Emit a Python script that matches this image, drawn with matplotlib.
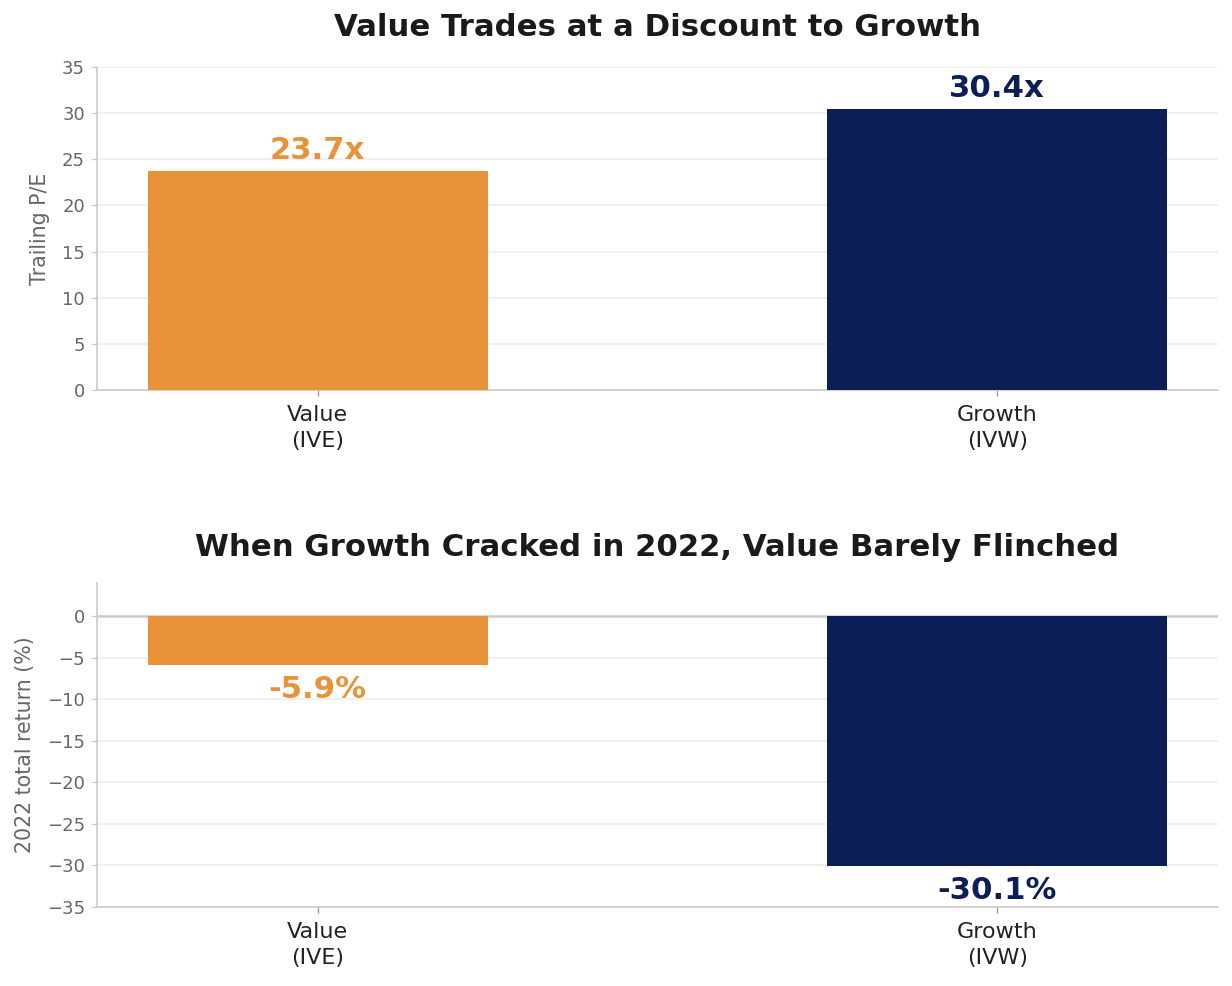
import matplotlib
matplotlib.use("Agg")
import matplotlib.pyplot as plt

plt.rcParams["font.family"] = ["DejaVu Sans"]

categories = ["Value\n(IVE)", "Growth\n(IVW)"]
pe_values = [23.7, 30.4]
returns_2022 = [-5.9, -30.1]
pe_labels = ["23.7x", "30.4x"]
ret_labels = ["-5.9%", "-30.1%"]
colors = ["#E8923A", "#0B1F56"]

DPI = 123.2
fig = plt.figure(figsize=(1232 / DPI, 986 / DPI), dpi=DPI)
ax1 = fig.add_axes([0.0787, 0.6045, 0.9099, 0.3275])
ax2 = fig.add_axes([0.0787, 0.0801, 0.9099, 0.3286])

def style(ax):
    for s in ["top", "right"]:
        ax.spines[s].set_visible(False)
    for s in ["left", "bottom"]:
        ax.spines[s].set_color("#cccccc")
        ax.spines[s].set_linewidth(1.0)
    ax.tick_params(axis="y", colors="#cccccc", labelcolor="#666666", labelsize=10.5)
    ax.tick_params(axis="x", colors="#999999", labelcolor="#222222", labelsize=13, pad=5)
    for lab in ax.get_xticklabels():
        lab.set_linespacing(1.4)
    ax.yaxis.grid(True, color="#eeeeee", linewidth=1.0)
    ax.set_axisbelow(True)

x = list(range(len(categories)))

# Top chart
ax1.bar(x, pe_values, width=0.5, color=colors, zorder=3)
ax1.set_ylim(0, 35)
ax1.set_xticks(x)
ax1.set_xticklabels(categories)
ax1.set_ylabel("Trailing P/E", color="#666666", fontsize=12, labelpad=7)
ax1.set_title("Value Trades at a Discount to Growth", fontsize=18, fontweight="bold",
              color="#1a1a1a", pad=18)
for xi, v, lab, c in zip(x, pe_values, pe_labels, colors):
    ax1.text(xi, v + 0.7, lab, ha="center", va="bottom", fontsize=18,
             fontweight="bold", color=c)
style(ax1)

# Bottom chart
ax2.bar(x, returns_2022, width=0.5, color=colors, zorder=3)
ax2.axhline(0, color="#cccccc", linewidth=1.5, zorder=2)
ax2.set_ylim(-35, 4)
ax2.set_yticks([0, -5, -10, -15, -20, -25, -30, -35])
ax2.set_xticks(x)
ax2.set_xticklabels(categories)
ax2.set_ylabel("2022 total return (%)", color="#666666", fontsize=12, labelpad=7)
ax2.set_title("When Growth Cracked in 2022, Value Barely Flinched", fontsize=18,
              fontweight="bold", color="#1a1a1a", pad=16)
for xi, v, lab, c in zip(x, returns_2022, ret_labels, colors):
    ax2.text(xi, v - 1.2, lab, ha="center", va="top", fontsize=18,
             fontweight="bold", color=c)
style(ax2)

fig.savefig("out.png", dpi=DPI)
